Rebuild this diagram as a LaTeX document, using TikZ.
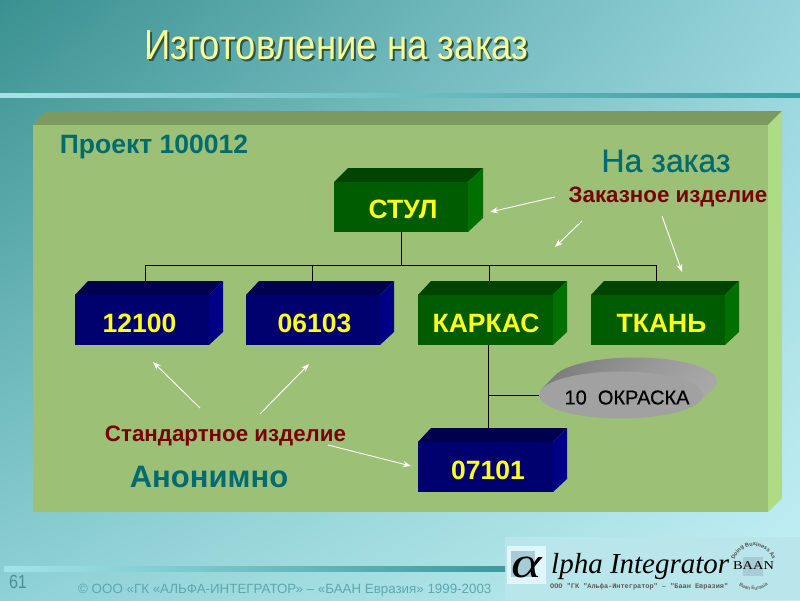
\documentclass[tikz,border=0pt]{standalone}
\usepackage{fontspec}
\setmainfont{Liberation Sans}
\setmonofont{Liberation Mono}
\newfontfamily\serifit{Liberation Serif}
\newfontfamily\fakeb[FakeBold=0.6]{Liberation Sans}
\usetikzlibrary{shadings,decorations.text,arrows.meta}
\definecolor{grfront}{HTML}{005C00}
\definecolor{grtop}{HTML}{004400}
\definecolor{grside}{HTML}{007000}
\definecolor{blfront}{HTML}{00006E}
\definecolor{bltop}{HTML}{000050}
\definecolor{blside}{HTML}{000086}
\definecolor{tealtxt}{HTML}{006B70}
\definecolor{redtxt}{HTML}{7A0008}
\definecolor{boxyel}{HTML}{FFFF1E}
\definecolor{bgul}{HTML}{3A9090}
\definecolor{bgur}{HTML}{96D4DC}
\definecolor{bgll}{HTML}{8FD2D6}
\definecolor{bglr}{HTML}{C3F0F4}
\definecolor{panelfront}{HTML}{9DC077}
\definecolor{paneltop}{HTML}{7C9A60}
\definecolor{panelside}{HTML}{AEDC85}
\definecolor{logobg}{HTML}{B9E6EA}
\definecolor{foottxt}{HTML}{5CA8AC}
\definecolor{titleyel}{HTML}{FAFA96}
\definecolor{titleshadow}{HTML}{2A5648}
\definecolor{logopale}{HTML}{A8CCD6}
\definecolor{lineleft}{HTML}{A4E4E8}
\definecolor{linemid}{HTML}{74C2C6}
\definecolor{lineright}{HTML}{3A9A9C}
\newcommand{\fnt}[1]{\fontsize{#1}{#1}\selectfont}
\newcommand{\solidbox}[9]{%
 \fill[#8top] (#2,#6) -- (#2+#9,#3) -- (#5,#3) -- (#4,#6) -- cycle;
 \fill[#8side] (#4,#6) -- (#5,#3) -- (#5,#7-#9) -- (#4,#7) -- cycle;
 \node[inner sep=0pt,minimum width=#4pt-#2pt,minimum height=#7pt-#6pt,fill=#8front] (#1) at ({(#2+#4)/2},{(#6+#7)/2}) {};
}
\tikzset{
 boxlabel/.style={text=boxyel,font=\bfseries\fnt{26.5},inner sep=0pt,anchor=center},
 redlabel/.style={text=redtxt,font=\bfseries\fnt{22.3},inner sep=0pt,anchor=center},
 teallabel/.style={text=tealtxt,inner sep=0pt,anchor=center},
 treeline/.style={black,line width=0.9pt},
 whitearrow/.style={white,line width=0.9pt,-{Stealth[length=8pt,width=6pt]}},
 titletext/.style={inner sep=0pt,anchor=center,font=\fnt{42},xscale=0.87,transform shape},
}
\begin{document}
\begin{tikzpicture}[x=1pt,y=-1pt]
\useasboundingbox (0,0) rectangle (800,600);
% background
\shade[shading=bilinear interpolation,upper left=bgul,upper right=bgur,lower left=bgll,lower right=bglr] (0,0) rectangle (800,600);
\fill[logobg] (505,537) rectangle (800,600);
\shade[left color=lineleft,middle color=linemid,right color=lineright] (0,93) rectangle (800,97);
\shade[left color=lineleft,middle color=linemid,right color=lineright] (4,566) rectangle (505,571);
% title
\node[titletext,text=titleshadow] at (338.5,47) {Изготовление на заказ};
\node[titletext,text=titleyel] (title) at (336.5,45) {Изготовление на заказ};
% panel
\fill[paneltop] (33,125) -- (46,111) -- (782,111) -- (768,125) -- cycle;
\fill[panelside] (768,125) -- (782,111) -- (782,498) -- (768,512) -- cycle;
\fill[panelfront] (33,125) rectangle (768,512);
% headings
\node[teallabel,font=\bfseries\fnt{26.5}] (proj) at (154,147) {Проект 100012};
\node[teallabel,font=\fakeb\fnt{32}] (order) at (666,161) {На заказ};
\node[teallabel,font=\bfseries\fnt{31}] (anon) at (209,477) {Анонимно};
\node[redlabel] (custom) at (668,197) {Заказное изделие};
\node[redlabel] (standard) at (225.5,436) {Стандартное изделие};
% tree lines
\coordinate (bus) at (401,265);
\coordinate (busL) at (145,265);
\coordinate (busA) at (312.5,265);
\coordinate (busB) at (489,265);
\coordinate (busR) at (656.5,265);
\coordinate (topA) at (145,281);
\coordinate (topB) at (312.5,281);
\coordinate (topC) at (489,281);
\coordinate (topD) at (656.5,281);
\coordinate (trunk) at (488,395);
\coordinate (karkasBot) at (488,345);
\coordinate (detTop) at (488,428);
% boxes
\solidbox{stul}{334}{168}{468}{483}{182}{232}{gr}{14}
\solidbox{boxA}{75}{281}{209}{223}{295}{345}{bl}{13}
\solidbox{boxB}{246}{281}{380}{394}{295}{345}{bl}{13}
\solidbox{boxC}{418}{281}{553}{567}{295}{345}{gr}{13}
\solidbox{boxD}{591}{281}{725}{739}{295}{345}{gr}{13}
\solidbox{boxE}{418}{428}{553}{567}{442}{492}{bl}{13}
\draw[treeline] (stul.south) -- (bus);
\draw[treeline] (busL) -- (busR);
\draw[treeline] (busL) -- (topA);
\draw[treeline] (busA) -- (topB);
\draw[treeline] (busB) -- (topC);
\draw[treeline] (busR) -- (topD);
\draw[treeline] (karkasBot) -- (detTop);
% ellipse
\foreach \i in {14,13,...,1}{
 \shade[left color=black!52,middle color=black!50,right color=black!34] (621+\i,395-\i) ellipse[x radius=82,y radius=23.5];
}
\fill[black!37] (621,395) ellipse[x radius=82,y radius=23.5];
\node[inner sep=0pt,minimum width=164pt,minimum height=47pt] (oper) at (621,395) {};
\draw[treeline] (trunk) -- (oper.west);
% box labels
\node[boxlabel] (lstul) at (403,209) {СТУЛ};
\node[boxlabel] (lA) at (139.5,323) {12100};
\node[boxlabel] (lB) at (314.5,323) {06103};
\node[boxlabel] (lC) at (486,323) {КАРКАС};
\node[boxlabel] (lD) at (661.5,323) {ТКАНЬ};
\node[boxlabel] (lE) at (488,470) {07101};
\node[inner sep=0pt,font=\fakeb\fnt{20}] (loper) at (627,397.5) {10\ \ ОКРАСКА};
% white arrows
\coordinate (a1s) at (555,197); \coordinate (a1e) at (490,212);
\coordinate (a2s) at (582,221); \coordinate (a2e) at (555,247);
\coordinate (a3s) at (662,216); \coordinate (a3e) at (682,272);
\coordinate (a4s) at (200,408); \coordinate (a4e) at (153,362);
\coordinate (a5s) at (260,414); \coordinate (a5e) at (309,364);
\coordinate (a6s) at (328,445); \coordinate (a6e) at (411,466);
\draw[whitearrow] (a1s) -- (a1e);
\draw[whitearrow] (a2s) -- (a2e);
\draw[whitearrow] (a3s) -- (a3e);
\draw[whitearrow] (a4s) -- (a4e);
\draw[whitearrow] (a5s) -- (a5e);
\draw[whitearrow] (a6s) -- (a6e);
% footer
\node[inner sep=0pt,text=foottxt!85!black,font=\fnt{19},xscale=0.85,transform shape] (num) at (18,582) {61};
\node[inner sep=0pt,anchor=west,text=foottxt,font=\fnt{13.35}] (foot) at (78,590) {© ООО «ГК «АЛЬФА-ИНТЕГРАТОР» – «БААН Евразия» 1999-2003};
% logo
\fill[white!88!cyan] (507,546) rectangle (546,584);
\fill[logopale] (511,551) rectangle (535,577);
\node[inner sep=0pt,anchor=base,font=\serifit\itshape\fnt{58},yscale=0.75,transform shape] (alpha) at (527,577) {α};
\node[inner sep=0pt,anchor=base west,font=\serifit\itshape\fnt{29}] (lpha) at (551,573) {lpha Integrator};
\node[inner sep=0pt,anchor=west,font=\ttfamily\bfseries\fnt{6.9},text=black!65] (sub) at (550,587) {ООО "ГК "Альфа-Интегратор" – "Баан Евразия"};
\fill[logopale] (743,557) rectangle (763,576);
\node[inner sep=0pt,font=\serifit\fnt{12},xscale=1.2,transform shape] (baan) at (753.5,566) {BAAN};
\path[decorate,decoration={text along path,text align=center,text={|\fnt{5.5}\bfseries\color{black!70}|Doing Business As}}] (733.5,566) arc[start angle=180,end angle=0,radius=20pt];
\path[decorate,decoration={text along path,text align=center,text={|\fnt{5}\bfseries\color{black!60}|Baan Eurasia}}] (729.5,566) arc[start angle=180,end angle=360,radius=24pt];
\end{tikzpicture}
\end{document}
